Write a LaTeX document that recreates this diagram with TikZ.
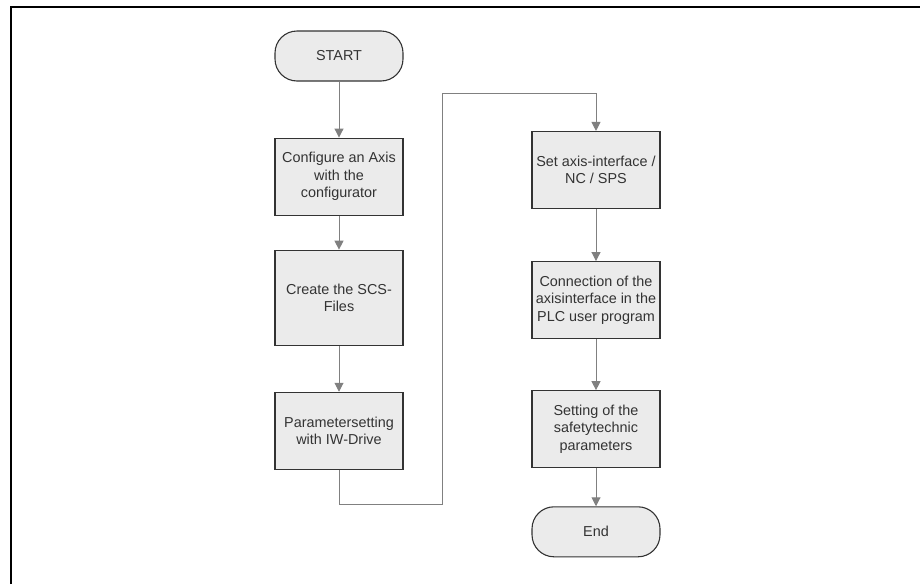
\documentclass[tikz,border=0pt]{standalone}
\usepackage{fontspec}
\setmainfont{Liberation Sans}
\usetikzlibrary{arrows.meta,positioning}
\definecolor{BoxFill}{RGB}{235,235,235}
\definecolor{BoxLine}{RGB}{51,51,51}
\definecolor{FlowGray}{RGB}{128,128,128}
\definecolor{TextGray}{RGB}{51,51,51}
\tikzset{
  terminal/.style={draw=BoxLine,fill=BoxFill,line width=1.1pt,rounded corners=22pt,
    minimum width=128pt,minimum height=50pt,align=center,text=TextGray,
    font=\fontsize{14.4}{17.5}\selectfont},
  process/.style={draw=BoxLine,fill=BoxFill,line width=1.1pt,
    minimum width=128pt,minimum height=77pt,align=center,text=TextGray,
    font=\fontsize{14.4}{17.5}\selectfont},
  arrow/.style={-{Triangle[width=9pt,length=9pt]},line width=1pt,FlowGray}
}

\begin{document}
\begin{tikzpicture}[x=1pt,y=-1pt]
  \useasboundingbox (0,0) rectangle (920,584);
  \draw[line width=2pt] (11,584) -- (11,7) -- (920,7);
  % left column
  \node[terminal] (start) at (339,56) {START};
  \node[process,below=56pt of start] (config) {Configure an Axis\\with the\\configurator};
  \node[process,minimum height=95pt,below=34pt of config] (scs) {Create the SCS-\\Files};
  \node[process,below=46pt of scs] (param) {Parametersetting\\with IW-Drive};
  % right column
  \node[process] (iface) at (596,170) {Set axis-interface /\\NC / SPS};
  \node[process,below=52pt of iface] (plc) {Connection of the\\axisinterface in the\\PLC user program};
  \node[process,below=51pt of plc] (safety) {Setting of the\\safetytechnic\\parameters};
  \node[terminal,below=38pt of safety] (end) {End};
  \coordinate (turnlow) at (442,504);
  \coordinate (turnhigh) at (442,93);
  \draw[arrow] (start) -- (config);
  \draw[arrow] (config) -- (scs);
  \draw[arrow] (scs) -- (param);
  \draw[arrow] (param.south) |- (turnlow) -- (turnhigh) -| (iface.north);
  \draw[arrow] (iface) -- (plc);
  \draw[arrow] (plc) -- (safety);
  \draw[arrow] (safety) -- (end);
\end{tikzpicture}
\end{document}
